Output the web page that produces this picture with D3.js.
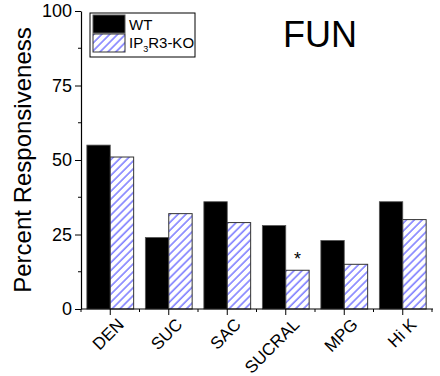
<!DOCTYPE html>
<html>
<head>
<meta charset="utf-8">
<script src="https://cdn.jsdelivr.net/npm/d3@7"></script>
<style>
body { margin: 0; background: #fff; }
svg text { font-family: Arial, "Liberation Sans", sans-serif; }
</style>
</head>
<body>
<svg width="440" height="376"></svg>
<script>
var categories = ["DEN", "SUC", "SAC", "SUCRAL", "MPG", "Hi K"];
var series = ["WT", "KO"];
var wtValues = [55, 24, 36, 28, 23, 36];
var koValues = [51, 32, 29, 13, 15, 30];
var yTicks = [0, 25, 50, 75, 100];
var starred = ["SUCRAL"];

var svg = d3.select("svg"),
	plotLeft = 81, plotRight = 432, plotTop = 11, plotBottom = 309;

var defs = svg.append("defs");
var pat = defs.append("pattern")
	.attr("id", "hatch")
	.attr("patternUnits", "userSpaceOnUse")
	.attr("width", 5.6).attr("height", 5.6)
	.attr("patternTransform", "rotate(45)");
pat.append("rect").attr("width", 5.6).attr("height", 5.6).attr("fill", "#fff");
pat.append("line")
	.attr("x1", 1).attr("y1", 0).attr("x2", 1).attr("y2", 5.6)
	.attr("stroke", "#1a1aff").attr("stroke-width", 0.9);

var x = d3.scaleBand().domain(categories).range([plotLeft, plotRight]).paddingInner(0.2).paddingOuter(0.1);
var xs = d3.scaleBand().domain(series).range([0, x.bandwidth()]);
var y = d3.scaleLinear().domain([0, 100]).range([plotBottom, plotTop]);

var data = categories.map(function(c, i){
	return {cat: c, WT: wtValues[i], KO: koValues[i]};
});

var groups = svg.append("g").selectAll("g")
	.data(data).enter().append("g")
	.attr("transform", function(d){ return "translate(" + x(d.cat) + ",0)"; });

groups.append("rect")
	.attr("x", xs("WT")).attr("width", xs.bandwidth())
	.attr("y", function(d){ return y(d.WT); })
	.attr("height", function(d){ return y(0) - y(d.WT); })
	.attr("fill", "#000").attr("stroke", "#555").attr("stroke-width", 0.8);

groups.append("rect")
	.attr("x", xs("KO")).attr("width", xs.bandwidth())
	.attr("y", function(d){ return y(d.KO); })
	.attr("height", function(d){ return y(0) - y(d.KO); })
	.attr("fill", "url(#hatch)").attr("stroke", "#333").attr("stroke-width", 1);

// significance mark
groups.filter(function(d){ return starred.indexOf(d.cat) >= 0; })
	.append("text")
	.attr("x", xs("KO") + xs.bandwidth() / 2)
	.attr("y", function(d){ return y(d.KO) - 5; })
	.attr("text-anchor", "middle")
	.attr("font-size", 18)
	.text("*");

// y axis with minor ticks
var yAxis = svg.append("g").attr("transform", "translate(" + plotLeft + ",0)")
	.call(d3.axisLeft(y).tickValues(yTicks).tickSize(6).tickSizeOuter(0).tickPadding(3));
yAxis.append("g").selectAll("line")
	.data([12.5, 37.5, 62.5, 87.5]).enter().append("line")
	.attr("x1", -3).attr("x2", 0)
	.attr("y1", function(d){ return y(d); }).attr("y2", function(d){ return y(d); })
	.attr("stroke", "#000");
yAxis.selectAll("text").attr("font-size", 18).attr("fill", "#000");
yAxis.select(".domain").attr("stroke", "#000").attr("stroke-width", 1.2);

// x axis: major at centers, minor between
var xAxis = svg.append("g").attr("transform", "translate(0," + plotBottom + ")");
xAxis.append("line").attr("x1", plotLeft).attr("x2", plotRight + 1)
	.attr("stroke", "#000").attr("stroke-width", 1.2);
var step = x.step();
var minor = d3.range(categories.length + 1).map(function(i){ return plotLeft + i * step; });
xAxis.selectAll(".minor").data(minor).enter().append("line")
	.attr("x1", function(d){ return d; }).attr("x2", function(d){ return d; })
	.attr("y1", 0).attr("y2", 3).attr("stroke", "#000");
xAxis.selectAll(".major").data(categories).enter().append("line")
	.attr("x1", function(d){ return x(d) + x.bandwidth() / 2; })
	.attr("x2", function(d){ return x(d) + x.bandwidth() / 2; })
	.attr("y1", 0).attr("y2", 6).attr("stroke", "#000");
xAxis.selectAll(".lbl").data(categories).enter().append("text")
	.attr("transform", function(d){ return "translate(" + (x(d) + x.bandwidth() / 2 + 6) + ",8) rotate(-45)"; })
	.attr("text-anchor", "end")
	.attr("dy", "0.72em")
	.attr("font-size", 17)
	.text(function(d){ return d; });

// y label
svg.append("text")
	.attr("transform", "translate(31," + 160 + ") rotate(-90)")
	.attr("text-anchor", "middle")
	.attr("font-size", 24)
	.text("Percent Responsiveness");

// title
svg.append("text").attr("x", 320).attr("y", 47)
	.attr("text-anchor", "middle").attr("font-size", 36).text("FUN");

// legend
var lg = svg.append("g").attr("transform", "translate(90,13)");
lg.append("rect").attr("width", 105).attr("height", 44)
	.attr("fill", "#fff").attr("stroke", "#000");
lg.append("rect").attr("x", 3).attr("y", 2).attr("width", 32).attr("height", 18)
	.attr("fill", "#000").attr("stroke", "#555");
lg.append("rect").attr("x", 3).attr("y", 21).attr("width", 32).attr("height", 18)
	.attr("fill", "url(#hatch)").attr("stroke", "#333");
lg.append("text").attr("x", 39).attr("y", 17).attr("font-size", 15).text("WT");
var t = lg.append("text").attr("x", 39).attr("y", 35).attr("font-size", 15);
t.append("tspan").text("IP");
t.append("tspan").attr("font-size", 9).attr("dy", 4).text("3");
t.append("tspan").attr("dy", -4).text("R3-KO");
</script>
</body>
</html>
